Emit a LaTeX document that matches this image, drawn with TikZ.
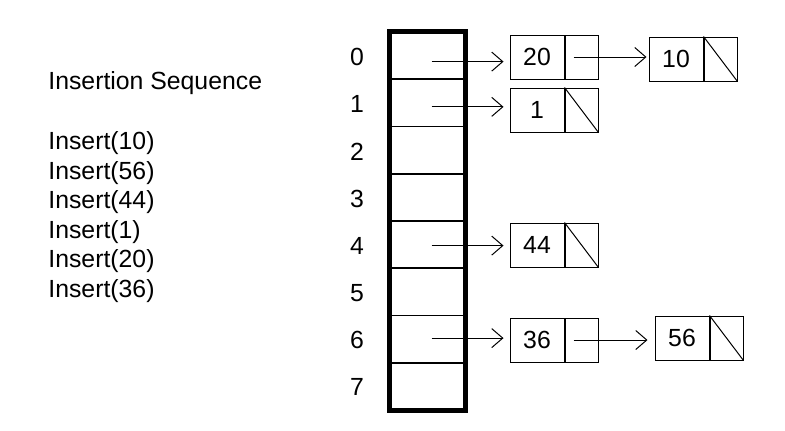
\documentclass[tikz,border=0pt]{standalone}
\usepackage{fontspec}
\setmainfont{Liberation Sans}
\usetikzlibrary{arrows.meta,positioning}
\tikzset{
  cell/.style={draw,line width=0.8pt,minimum width=37.5pt,minimum height=23.6pt,inner sep=0pt},
  datbox/.style={draw,line width=0.5pt,minimum width=27pt,minimum height=22pt,inner sep=0pt},
  ptrbox/.style={draw,line width=0.5pt,minimum width=16.5pt,minimum height=22pt,inner sep=0pt},
  ptr/.style={line width=0.5pt,-{Straight Barb[length=5.5pt,width=9.5pt]}},
  nil/.style={line width=0.5pt}
}
\begin{document}
\begin{tikzpicture}[x=0.5pt,y=-0.5pt,font=\fontsize{12.4}{14.8}\selectfont]
\useasboundingbox (0,0) rectangle (785,430);
% insertion sequence
\node[anchor=west,inner sep=0pt] (title) at (48,83) {Insertion Sequence};
\foreach \v [count=\i from 0] in {10,56,44,1,20,36}
  \node[anchor=west,inner sep=0pt] (ins\i) at (48,143+29.6*\i) {Insert(\v)};
% table
\foreach \i in {0,...,7} {
  \node[cell] (c\i) at (427.5,55.6+47.25*\i) {};
  \node (idx\i) at (357,57+47.2*\i) {\i};
}
\draw[line width=2.5pt] (c0.north west) rectangle (c7.south east);
% list nodes
\node[datbox] (d20) at (537,57) {20};
\node[ptrbox,right=0pt of d20] (p20) {};
\node[datbox] (d10) at (676,59) {10};
\node[ptrbox,right=0pt of d10] (p10) {};
\draw[nil] (p10.north west) -- (p10.south east);
\node[datbox] (d1) at (537,110) {1};
\node[ptrbox,right=0pt of d1] (p1) {};
\draw[nil] (p1.north west) -- (p1.south east);
\node[datbox] (d44) at (537,245) {44};
\node[ptrbox,right=0pt of d44] (p44) {};
\draw[nil] (p44.north west) -- (p44.south east);
\node[datbox] (d36) at (537,340) {36};
\node[ptrbox,right=0pt of d36] (p36) {};
\node[datbox] (d56) at (682,338) {56};
\node[ptrbox,right=0pt of d56] (p56) {};
\draw[nil] (p56.north west) -- (p56.south east);
% pointers
\draw[ptr,shorten >=3pt] ([shift={(4,6)}]c0.center) coordinate (a0) -- (a0 -| d20.west);
\draw[ptr,shorten >=3pt] ([shift={(4,4)}]c1.center) coordinate (a1) -- (a1 -| d1.west);
\draw[ptr,shorten >=3pt] ([shift={(4,1)}]c4.center) coordinate (a4) -- (a4 -| d44.west);
\draw[ptr,shorten >=3pt] ([shift={(4,-1)}]c6.center) coordinate (a6) -- (a6 -| d36.west);
\draw[ptr,shorten >=1pt] ([xshift=-4]p20.center) coordinate (b20) -- (b20 -| d10.west);
\draw[ptr,shorten >=3.5pt] ([xshift=-4]p36.center) coordinate (b36) -- (b36 -| d56.west);
\end{tikzpicture}
\end{document}
